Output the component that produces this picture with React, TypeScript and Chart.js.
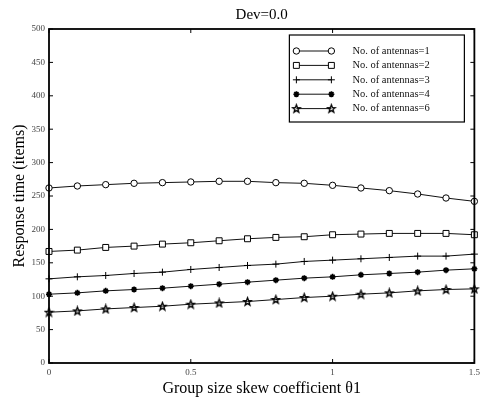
import React, { useEffect, useRef } from 'react';
import { Chart, registerables } from 'chart.js';

Chart.register(...registerables);

// ---- data ----
const xValues = [0, 0.1, 0.2, 0.3, 0.4, 0.5, 0.6, 0.7, 0.8, 0.9, 1.0, 1.1, 1.2, 1.3, 1.4, 1.5];
const antennas1 = [262, 265, 267, 269, 270, 271, 272, 272, 270, 269, 266, 262, 258, 253, 247, 242];
const antennas2 = [167, 169, 173, 175, 178, 180, 183, 186, 188, 189, 192, 193, 194, 194, 194, 192];
const antennas3 = [126, 129, 131, 134, 136, 140, 143, 146, 148, 152, 154, 156, 158, 160, 160, 163];
const antennas4 = [103, 105, 108, 110, 112, 115, 118, 121, 124, 127, 129, 132, 134, 136, 139, 141];
const antennas6 = [76, 78, 81, 83, 85, 88, 90, 92, 95, 98, 100, 103, 105, 108, 110, 111];
const seriesLabels = [
  'No. of antennas=1',
  'No. of antennas=2',
  'No. of antennas=3',
  'No. of antennas=4',
  'No. of antennas=6',
];
const xTicks = [0, 0.5, 1, 1.5];
const yTicks = [0, 50, 100, 150, 200, 250, 300, 350, 400, 450, 500];
const titleText = 'Dev=0.0';
const xTitle = 'Group size skew coefficient \u03b81';
const yTitle = 'Response time (items)';

const FONT = "'Liberation Serif', 'Times New Roman', serif";

function makeStar(): HTMLCanvasElement {
  const c = document.createElement('canvas');
  c.width = 11;
  c.height = 11;
  const ctx = c.getContext('2d')!;
  ctx.strokeStyle = '#000';
  ctx.lineWidth = 1.4;
  ctx.lineJoin = 'miter';
  ctx.beginPath();
  for (let i = 0; i < 10; i++) {
    const r = i % 2 === 0 ? 4.0 : 1.7;
    const a = -Math.PI / 2 + (i * Math.PI) / 5;
    const x = 5.5 + r * Math.cos(a);
    const y = 5.8 + r * Math.sin(a);
    if (i === 0) ctx.moveTo(x, y);
    else ctx.lineTo(x, y);
  }
  ctx.closePath();
  ctx.stroke();
  return c;
}

const starImg = makeStar();
const seriesValues = [antennas1, antennas2, antennas3, antennas4, antennas6];
const pointStyles: any[] = ['circle', 'rect', 'cross', 'star', starImg];
const pointRadii = [3.2, 4.2, 3.5, 3, 5];
const pointBorderWidths = [1, 1, 1, 1.6, 1];

function drawMarker(ctx: CanvasRenderingContext2D, style: any, r: number, bw: number, x: number, y: number) {
  ctx.save();
  ctx.strokeStyle = '#000';
  ctx.fillStyle = '#fff';
  ctx.lineWidth = bw;
  if (style === 'circle') {
    ctx.beginPath();
    ctx.arc(x, y, r, 0, Math.PI * 2);
    ctx.fill();
    ctx.stroke();
  } else if (style === 'rect') {
    const s = r * Math.SQRT1_2;
    ctx.beginPath();
    ctx.rect(x - s, y - s, 2 * s, 2 * s);
    ctx.fill();
    ctx.stroke();
  } else if (style === 'cross') {
    ctx.beginPath();
    ctx.moveTo(x - r, y);
    ctx.lineTo(x + r, y);
    ctx.moveTo(x, y - r);
    ctx.lineTo(x, y + r);
    ctx.stroke();
  } else if (style === 'star') {
    ctx.beginPath();
    for (let i = 0; i < 4; i++) {
      const a = (i * Math.PI) / 4;
      ctx.moveTo(x - r * Math.cos(a), y - r * Math.sin(a));
      ctx.lineTo(x + r * Math.cos(a), y + r * Math.sin(a));
    }
    ctx.stroke();
  } else if (style instanceof HTMLCanvasElement) {
    ctx.drawImage(style, x - style.width / 2, y - style.height / 2);
  }
  ctx.restore();
}

const frameLegendPlugin = {
  id: 'frameLegend',
  afterDraw(chart: any) {
    const { ctx, chartArea: a, scales } = chart;
    const xs = scales.x;
    const ys = scales.y;
    ctx.save();
    ctx.strokeStyle = '#000';
    ctx.lineWidth = 1;
    ctx.beginPath();
    for (const v of xTicks) {
      const px = xs.getPixelForValue(v);
      ctx.moveTo(px, a.bottom);
      ctx.lineTo(px, a.bottom - 4);
      ctx.moveTo(px, a.top);
      ctx.lineTo(px, a.top + 4);
    }
    for (const v of yTicks) {
      const py = ys.getPixelForValue(v);
      ctx.moveTo(a.left, py);
      ctx.lineTo(a.left + 4, py);
      ctx.moveTo(a.right, py);
      ctx.lineTo(a.right - 4, py);
    }
    ctx.stroke();
    ctx.lineWidth = 1.8;
    ctx.strokeRect(a.left, a.top, a.right - a.left, a.bottom - a.top);

    // legend box
    const bl = a.right - 185;
    const br = a.right - 10;
    const bt = a.top + 6;
    const bb = a.top + 93;
    ctx.fillStyle = '#fff';
    ctx.fillRect(bl, bt, br - bl, bb - bt);
    ctx.lineWidth = 1.2;
    ctx.strokeRect(bl, bt, br - bl, bb - bt);
    ctx.font = `10.5px ${FONT}`;
    ctx.textBaseline = 'middle';
    ctx.textAlign = 'left';
    chart.data.datasets.forEach((ds: any, i: number) => {
      const y = bt + 16 + i * 14.4;
      const x1 = bl + 7;
      const x2 = bl + 42;
      ctx.strokeStyle = '#111';
      ctx.lineWidth = 1;
      ctx.beginPath();
      ctx.moveTo(x1, y);
      ctx.lineTo(x2, y);
      ctx.stroke();
      drawMarker(ctx, ds.pointStyle, ds.pointRadius, ds.pointBorderWidth, x1, y);
      drawMarker(ctx, ds.pointStyle, ds.pointRadius, ds.pointBorderWidth, x2, y);
      ctx.fillStyle = '#111';
      ctx.fillText(ds.label, bl + 63, y);
    });
    ctx.restore();
  },
};

export default function App() {
  const ref = useRef<HTMLCanvasElement>(null);
  useEffect(() => {
    const datasets = seriesValues.map((vals, i) => ({
      label: seriesLabels[i],
      data: vals.map((v, j) => ({ x: xValues[j], y: v })),
      borderColor: '#111',
      borderWidth: 1,
      pointStyle: pointStyles[i],
      pointRadius: pointRadii[i],
      pointBorderColor: '#000',
      pointBackgroundColor: '#fff',
      pointBorderWidth: pointBorderWidths[i],
      tension: 0,
      fill: false,
      clip: false as any,
    }));
    const chart = new Chart(ref.current!, {
      type: 'line',
      data: { datasets },
      plugins: [frameLegendPlugin],
      options: {
        animation: false,
        responsive: true,
        maintainAspectRatio: false,
        layout: { padding: { left: 0, right: 9, top: 0, bottom: 0 } },
        plugins: {
          legend: { display: false },
          tooltip: { enabled: false },
          title: {
            display: true,
            text: titleText,
            fullSize: false,
            color: '#000',
            font: { family: FONT, size: 15, weight: 'normal' },
            padding: { top: 6, bottom: 5 },
          },
        },
        scales: {
          x: {
            type: 'linear',
            min: 0,
            max: 1.5,
            afterBuildTicks: (s: any) => {
              s.ticks = xTicks.map((v) => ({ value: v }));
            },
            afterFit: (s: any) => {
              s.height = 36;
            },
            grid: { display: false, drawTicks: false },
            border: { display: false },
            ticks: {
              font: { family: FONT, size: 9 },
              color: '#444',
              padding: 4,
              maxRotation: 0,
              callback: (v: any) => String(v),
            },
            title: {
              display: true,
              text: xTitle,
              color: '#000',
              font: { family: FONT, size: 16 },
              padding: { top: 0, bottom: 1 },
            },
          },
          y: {
            type: 'linear',
            min: 0,
            max: 500,
            afterBuildTicks: (s: any) => {
              s.ticks = yTicks.map((v) => ({ value: v }));
            },
            afterFit: (s: any) => {
              s.width = 49;
            },
            grid: { display: false, drawTicks: false },
            border: { display: false },
            ticks: {
              font: { family: FONT, size: 9 },
              color: '#444',
              padding: 4,
              callback: (v: any) => String(v),
            },
            title: {
              display: true,
              text: yTitle,
              color: '#000',
              font: { family: FONT, size: 16 },
              padding: { top: 10, bottom: 0 },
            },
          },
        },
      },
    });
    return () => chart.destroy();
  }, []);
  return (
    <div style={{ position: 'fixed', left: 0, top: 0, width: 484, height: 399 }}>
      <canvas ref={ref} />
    </div>
  );
}
